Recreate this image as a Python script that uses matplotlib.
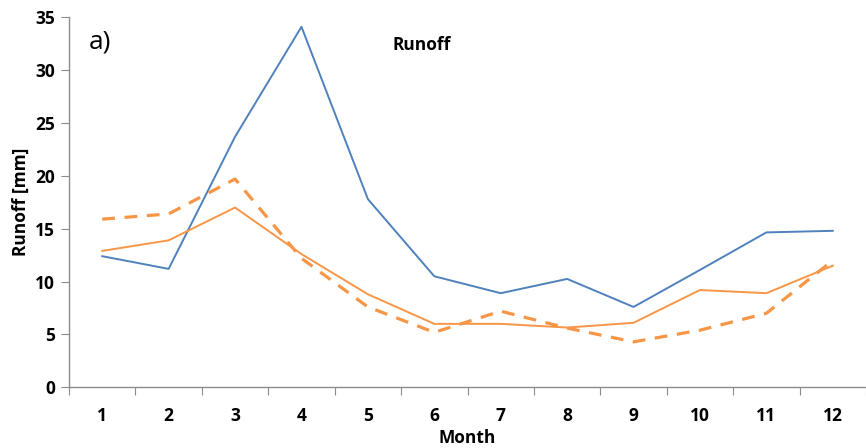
import matplotlib

matplotlib.use("Agg")
import matplotlib.pyplot as plt
import numpy as np

months = list(range(1, 13))
blue_runoff = [12.4, 11.2, 23.7, 34.1, 17.8, 10.5, 8.9, 10.25, 7.6, 11.1, 14.65, 14.8]
orange_runoff = [12.9, 13.9, 17.0, 12.6, 8.8, 6.0, 6.0, 5.65, 6.1, 9.2, 8.9, 11.5]
orange_dashed = [15.9, 16.4, 19.7, 12.2, 7.6, 5.2, 7.2, 5.6, 4.3, 5.4, 7.0, 12.0]
y_ticks = [0, 5, 10, 15, 20, 25, 30, 35]

BLUE = "#4F81BD"
ORANGE = "#F79646"
AXIS = "#8c8c8c"
FONT = "Open Sans"

fig = plt.figure(figsize=(8.66, 4.48), dpi=100)
ax = fig.add_axes([0.0797, 0.1355, 0.9203, 0.826])

ax.plot(months, blue_runoff, "-", color=BLUE, linewidth=1.4)
ax.plot(months, orange_runoff, "-", color=ORANGE, linewidth=1.4)
ax.plot(months, orange_dashed, "--", color=ORANGE, linewidth=2.3, dashes=(4, 3))

ax.set_xlim(0.5, 12.5)
ax.set_ylim(0, 35)

# category axis: ticks between months, labels centred on them
ax.set_xticks(np.arange(0.5, 13, 1))
ax.set_xticklabels([])
ax.set_xticks(months, minor=True)
ax.set_xticklabels([str(m) for m in months], minor=True,
                   fontfamily=FONT, fontweight="bold", fontsize=12.5)
ax.tick_params(axis="x", which="minor", length=0, pad=14)
ax.tick_params(axis="x", which="major", direction="out", length=6, color=AXIS)

ax.set_yticks(y_ticks)
ax.set_yticklabels([str(v) for v in y_ticks],
                   fontfamily=FONT, fontweight="bold", fontsize=12.5)
ax.tick_params(axis="y", direction="out", length=6, color=AXIS, pad=4)

for side in ("top", "right"):
    ax.spines[side].set_visible(False)
for side in ("left", "bottom"):
    ax.spines[side].set_color(AXIS)
    ax.spines[side].set_linewidth(1.0)

ax.set_xlabel("Month", fontfamily=FONT, fontweight="bold", fontsize=12.5)
ax.xaxis.set_label_coords(0.5, -0.112)
ax.set_ylabel("Runoff [mm]", fontfamily=FONT, fontweight="bold", fontsize=12.5, labelpad=4)

ax.text(0.039, 0.933, "a)", transform=ax.transAxes, fontfamily=FONT,
        fontsize=19, va="center", ha="center")
ax.text(0.443, 0.925, "Runoff", transform=ax.transAxes, fontfamily=FONT,
        fontweight="bold", fontsize=12.5, va="center", ha="center")

fig.savefig("out.png", dpi=100)
